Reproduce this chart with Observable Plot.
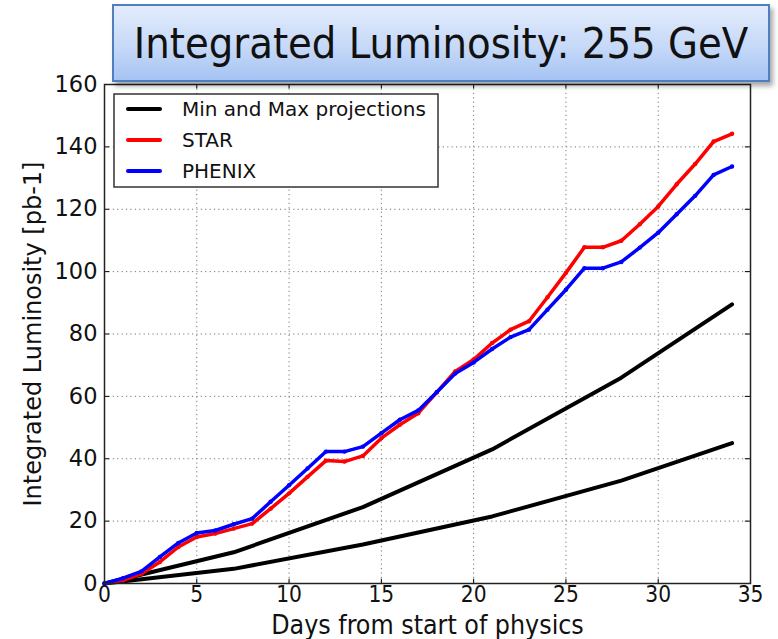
<!DOCTYPE html>
<html>
<head>
<meta charset="utf-8">
<script src="https://cdn.jsdelivr.net/npm/d3@7"></script>
<script src="https://cdn.jsdelivr.net/npm/@observablehq/plot@0.6"></script>
<style>
  html, body { margin: 0; padding: 0; background: #fff; }
  #wrap { position: relative; width: 778px; height: 639px; overflow: hidden; }
  #title {
    position: absolute; left: 112px; top: 4px; width: 658px; height: 78px;
    box-sizing: border-box;
    background: linear-gradient(to bottom, #e3ecfc 0%, #c6d9f8 55%, #a6c3f3 100%);
    border: 2px solid #4f7fc0;
    box-shadow: 3px 4px 5px rgba(0,0,0,0.35);
    display: flex; align-items: center; justify-content: center;
    font-family: "Liberation Sans Narrow", "DejaVu Sans Condensed", sans-serif;
    font-size: 43px; color: #111; z-index: 2;
  }
</style>
</head>
<body>
<div id="wrap"><div id="title">Integrated Luminosity: 255 GeV</div></div>
<script>
const days = d3.range(0, 35);
const star = [0,1.0,3.1,6.9,11.7,14.9,16,17.6,19.2,24,28.9,34.2,39.4,39.1,40.9,46.6,50.9,54.6,61.3,68,71.8,77.1,81.4,84.1,91.8,99.6,107.8,107.8,109.9,115.2,120.9,128,134.5,141.7,144.2];
const phenix = [0,1.7,3.9,8.5,13,16.2,17,19,20.8,26.2,31.5,36.9,42.3,42.3,43.9,48.2,52.5,55.5,61.3,67.3,70.9,75.2,79,81.4,87.8,94.2,101.1,101.1,103.1,107.7,112.5,118.4,124.3,131,133.7];
const projDays = [0,7,14,21,28,34];
const minProj = [0,4.7,12.5,21.5,33,45];
const maxProj = [0,10,24.5,43,66,89.5];
const xTicks = [0,5,10,15,20,25,30,35];
const yTicks = [0,20,40,60,80,100,120,140,160];
const legendLabels = ["Min and Max projections", "STAR", "PHENIX"];
const legendColors = ["black", "red", "blue"];

const starData = days.map((d, i) => ({d, v: star[i]}));
const phenixData = days.map((d, i) => ({d, v: phenix[i]}));
const minData = projDays.map((d, i) => ({d, v: minProj[i]}));
const maxData = projDays.map((d, i) => ({d, v: maxProj[i]}));

const gridStyle = {stroke: "#777", strokeOpacity: 1, strokeWidth: 1, strokeDasharray: "1.2,3.2"};

const chart = Plot.plot({
  width: 778, height: 639,
  marginLeft: 104, marginRight: 28, marginTop: 84, marginBottom: 56,
  x: {domain: [0, 35]},
  y: {domain: [0, 160]},
  style: {background: "white"},
  marks: [
    Plot.gridX(xTicks.slice(1, -1), gridStyle),
    Plot.gridY(yTicks.slice(1, -1), gridStyle),
    Plot.ruleX(xTicks, {y1: 0, y2: 1.4, stroke: "black", strokeWidth: 1}),
    Plot.ruleX(xTicks, {y1: 160, y2: 158.6, stroke: "black", strokeWidth: 1}),
    Plot.ruleY(yTicks, {x1: 0, x2: 0.28, stroke: "black", strokeWidth: 1}),
    Plot.ruleY(yTicks, {x1: 35, x2: 34.72, stroke: "black", strokeWidth: 1}),
    Plot.line(minData, {x: "d", y: "v", stroke: "black", strokeWidth: 4}),
    Plot.line(maxData, {x: "d", y: "v", stroke: "black", strokeWidth: 4}),
    Plot.line(starData, {x: "d", y: "v", stroke: "red", strokeWidth: 3.5}),
    Plot.dot(starData, {x: "d", y: "v", fill: "red", r: 2.2}),
    Plot.line(phenixData, {x: "d", y: "v", stroke: "blue", strokeWidth: 3.5}),
    Plot.dot(phenixData, {x: "d", y: "v", fill: "blue", r: 2.2}),
    Plot.frame({stroke: "#222", strokeWidth: 1.5}),
    Plot.axisX(xTicks, {tickSize: 0, tickPadding: 3, fontSize: 22.5, fontFamily: "DejaVu Sans Condensed, DejaVu Sans, sans-serif", fill: "#111", label: null}),
    Plot.axisY(yTicks, {tickSize: 0, tickPadding: 7, fontSize: 22.5, fontFamily: "DejaVu Sans, sans-serif", fill: "#111", label: null}),
    Plot.text(["Days from start of physics"], {frameAnchor: "bottom", lineAnchor: "middle", dy: 42, fontSize: 26.5, fontFamily: "DejaVu Sans Condensed, DejaVu Sans, sans-serif", fill: "#111"}),
    Plot.text(["Integrated Luminosity [pb-1]"], {frameAnchor: "left", textAnchor: "middle", lineAnchor: "middle", dx: -71, rotate: -90, fontSize: 24, fontFamily: "DejaVu Sans, sans-serif", fill: "#111"})
  ]
});
document.getElementById("wrap").appendChild(chart);

// legend inside plot frame
const svg = d3.select(chart);
const lg = svg.append("g").attr("transform", "translate(114,94)").attr("text-anchor", "start");
lg.append("rect").attr("x", 0).attr("y", 0).attr("width", 324).attr("height", 93)
  .attr("fill", "white").attr("stroke", "#333").attr("stroke-width", 1.5);
legendLabels.forEach((lab, i) => {
  const y = 15 + i * 31;
  lg.append("line").attr("x1", 14).attr("x2", 46).attr("y1", y).attr("y2", y)
    .attr("stroke", legendColors[i]).attr("stroke-width", 4).attr("stroke-linecap", "round");
  lg.append("text").attr("x", 68).attr("y", y).attr("dy", "0.36em").attr("text-anchor", "start")
    .attr("font-family", "DejaVu Sans, sans-serif").attr("font-size", 20).attr("fill", "#111").text(lab);
});
</script>
</body>
</html>
